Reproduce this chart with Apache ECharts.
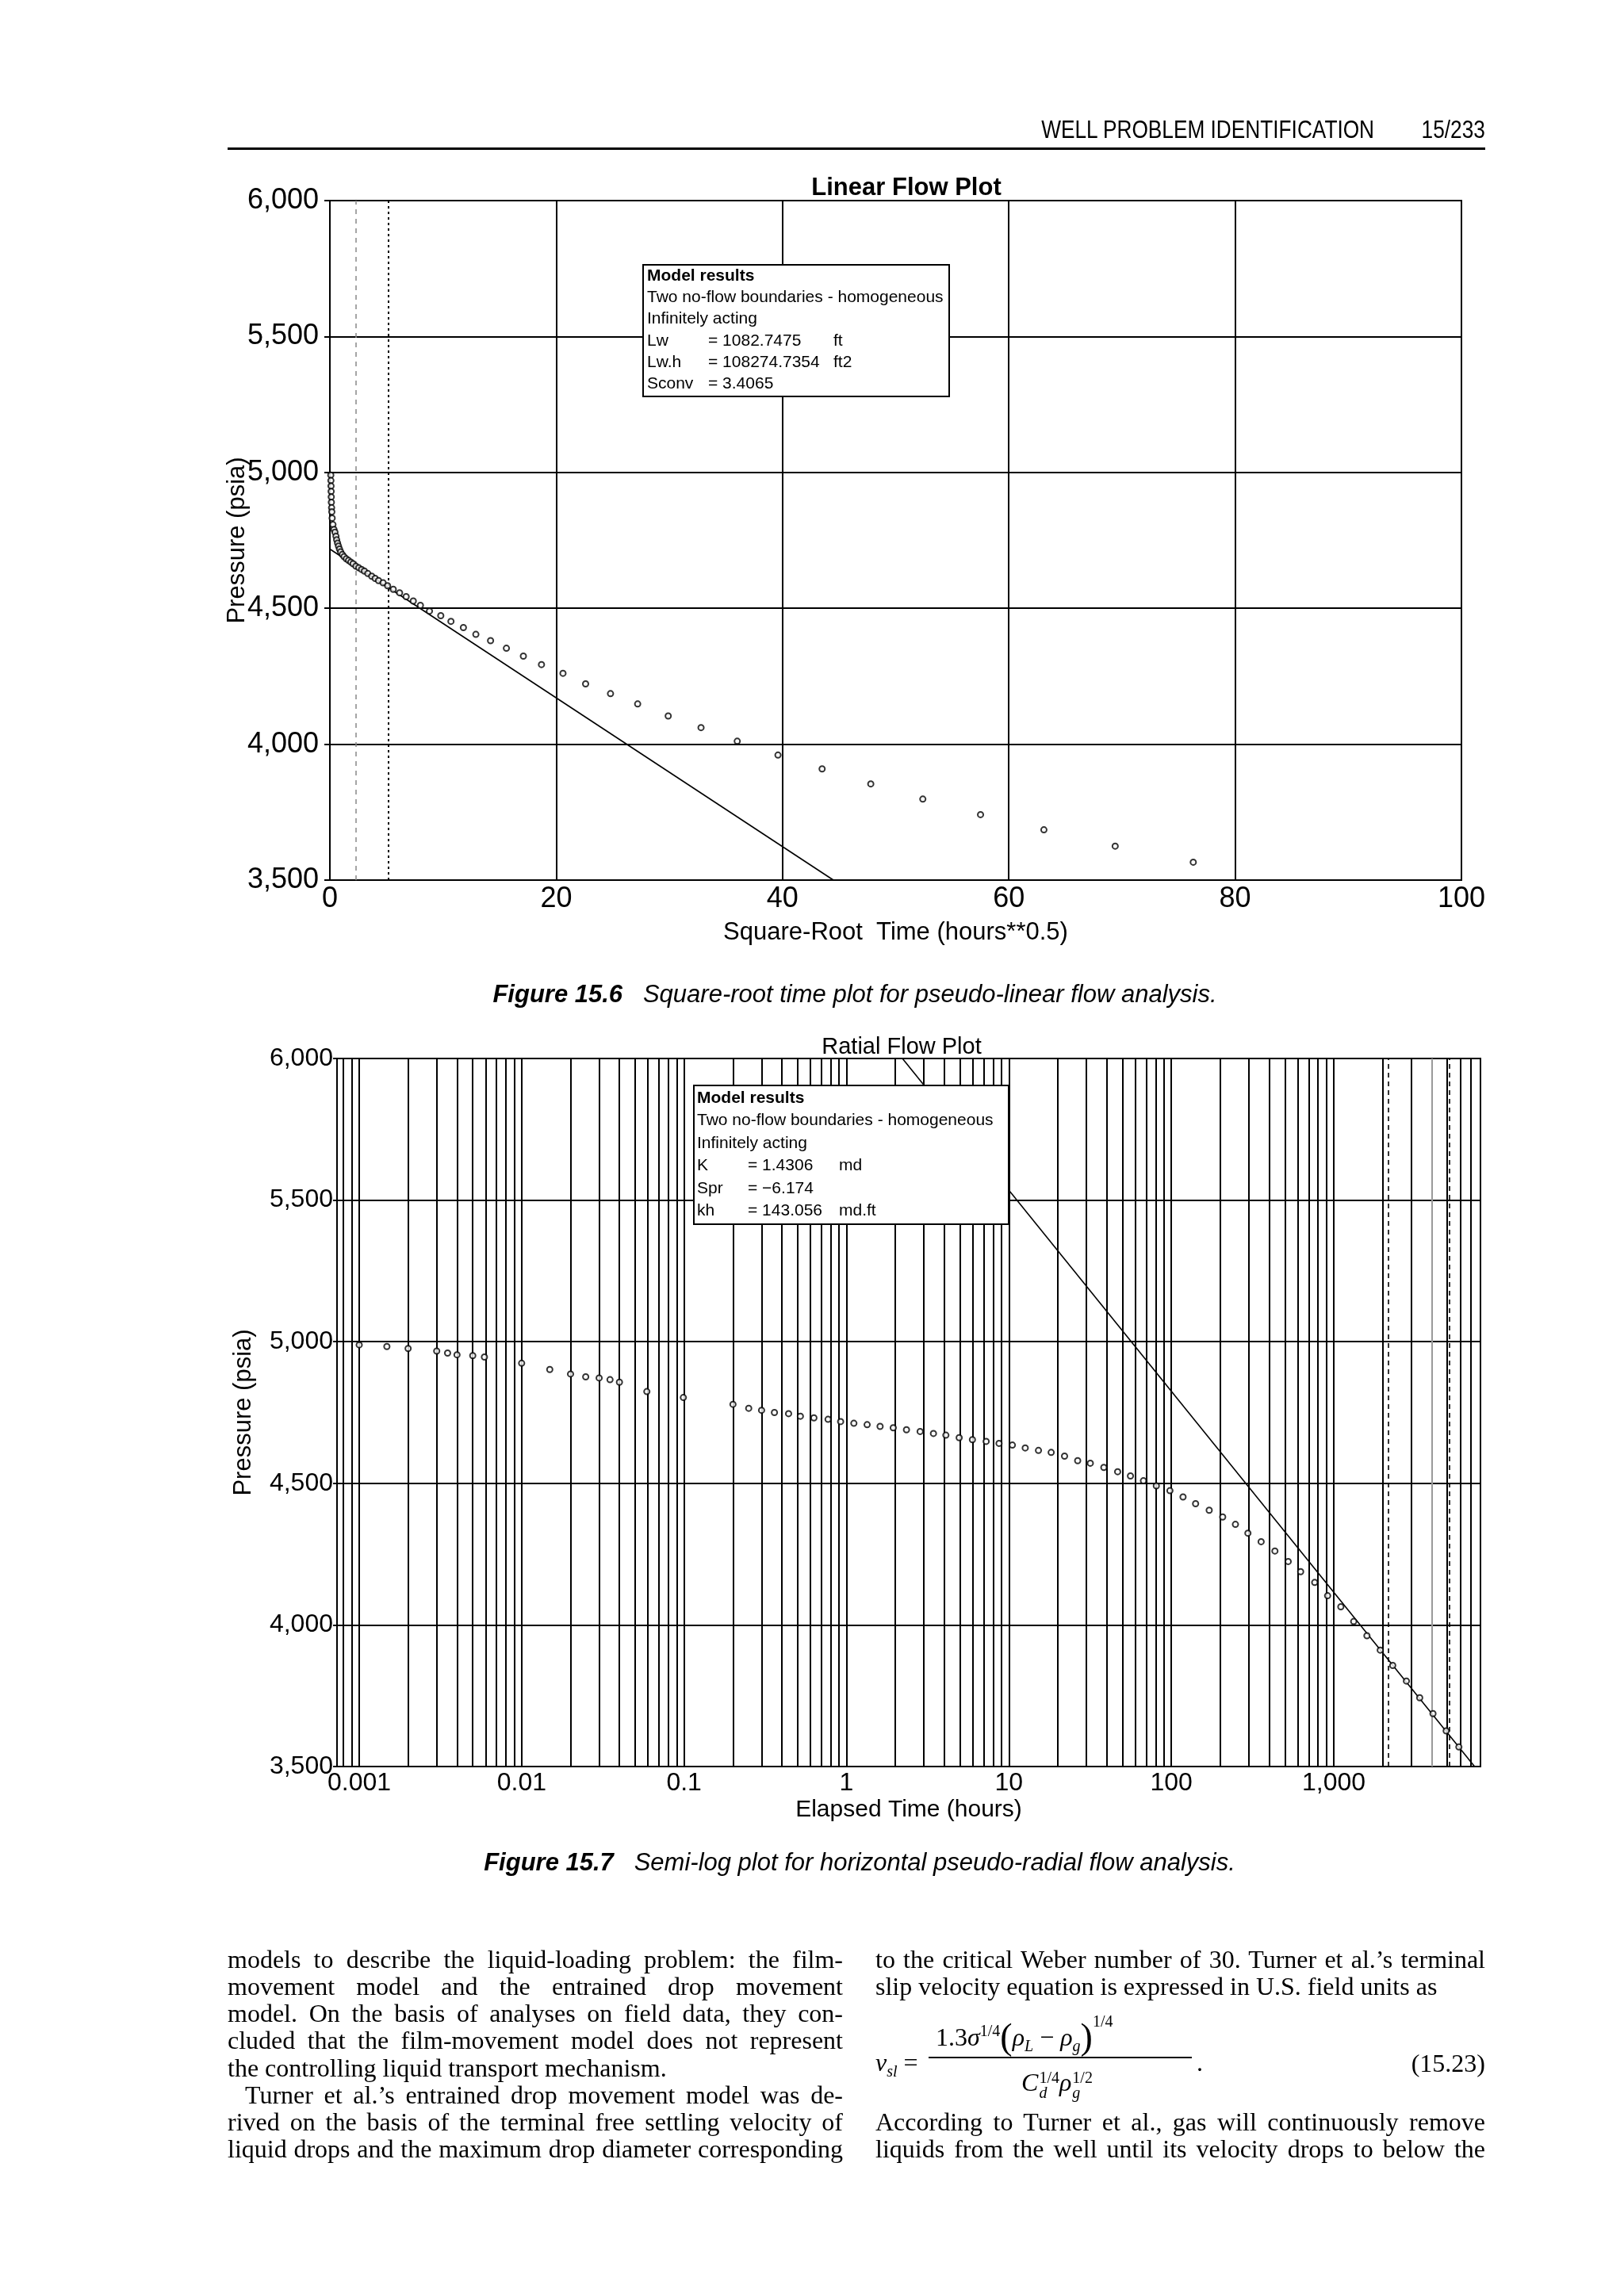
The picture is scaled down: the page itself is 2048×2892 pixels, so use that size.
<!DOCTYPE html>
<html>
<head>
<meta charset="utf-8">
<script src="https://cdn.jsdelivr.net/npm/echarts@6/dist/echarts.min.js"></script>
<style>
  body { margin: 0; background: #fff; }
  #page { position: relative; width: 2048px; height: 2892px; overflow: hidden; background: #fff; }
  #chart { position: absolute; left: 0; top: 0; width: 2048px; height: 2892px; }
  .t { position: absolute; white-space: nowrap; color: #000; }
  .sans { font-family: 'Liberation Sans', Arial, sans-serif; }
  .serif { font-family: 'Liberation Serif', 'Times New Roman', serif; }
  .cond { font-family: 'Liberation Sans', Arial, sans-serif; transform: scaleX(0.82); transform-origin: right center; }
  .bl { position: absolute; font-family: 'Liberation Serif', 'Times New Roman', serif; font-size: 32px;
        line-height: 34px; height: 34px; text-align: justify; text-align-last: justify; color: #000; overflow: visible; }
  .bl.last { text-align-last: left; }
  .ss { display: inline-flex; flex-direction: column; font-size: 20px; line-height: 19px; vertical-align: middle; margin-left: 1px; }
  sub, sup { font-size: 20px; line-height: 0; }
</style>
</head>
<body>
<div id="page">
  <div id="chart"></div>
</div>
<script>
// ---------------- data ----------------
const linearSqrtTime = [0.08, 0.09, 0.1, 0.11, 0.12, 0.13, 0.15, 0.17, 0.2, 0.27,
  0.36, 0.45, 0.54, 0.6, 0.68, 0.76, 0.85, 0.95, 1.1, 1.25,
  1.45, 1.65, 1.85, 2.05, 2.3, 2.55, 2.8, 3.05, 3.35, 3.7,
  4.0, 4.3, 4.7, 5.1, 5.6, 6.16, 6.74, 7.37, 8.0, 8.8,
  9.8, 10.7, 11.8, 12.9, 14.2, 15.6, 17.1, 18.7, 20.6, 22.6,
  24.8, 27.2, 29.9, 32.8, 36.0, 39.6, 43.5, 47.8, 52.4, 57.5,
  63.1, 69.4, 76.3];
const linearPressure = [4990, 4970, 4950, 4930, 4910, 4890, 4870, 4855, 4832, 4808,
  4790, 4780, 4765, 4752, 4740, 4729, 4718, 4708, 4698, 4690,
  4682, 4676, 4670, 4664, 4655, 4649, 4643, 4637, 4628, 4618,
  4610, 4602, 4594, 4583, 4570, 4557, 4543, 4527, 4511, 4490,
  4473, 4452, 4429, 4404, 4381, 4353, 4324, 4293, 4261, 4222,
  4186, 4148, 4104, 4061, 4011, 3960, 3909, 3854, 3798, 3741,
  3685, 3625, 3566];
const linearFitX = [0, 44.5];
const linearFitP = [4718, 3500];
const linearMarkers = [2.3, 5.2];

const radialTime = [0.001, 0.00148, 0.002, 0.003, 0.0035, 0.004, 0.005, 0.0059,
  0.01, 0.0149, 0.02, 0.0248, 0.03, 0.035, 0.04, 0.059, 0.099,
  0.2, 0.25, 0.30, 0.36, 0.44, 0.52, 0.63, 0.77, 0.92, 1.11,
  1.34, 1.61, 1.94, 2.34, 2.84, 3.43, 4.09, 4.94, 5.96, 7.24,
  8.69, 10.5, 12.6, 15.2, 18.2, 22.0, 26.5, 31.7, 38.4, 46.7,
  56.0, 67.3, 80.8, 98, 118, 141, 171, 207, 248, 296,
  357, 434, 524, 625, 763, 916, 1105, 1326, 1600, 1932,
  2306, 2800, 3380, 4080, 4920, 5890];
const radialPressure = [4989, 4983, 4976, 4967, 4960, 4954, 4951, 4946,
  4924, 4902, 4886, 4876, 4872, 4866, 4857, 4824, 4803,
  4779, 4765, 4758, 4750, 4746, 4737, 4731, 4726, 4718, 4712,
  4707, 4701, 4696, 4689, 4683, 4676, 4670, 4661, 4654, 4648,
  4641, 4635, 4625, 4616, 4609, 4596, 4580, 4571, 4556, 4541,
  4526, 4509, 4491, 4474, 4452, 4428, 4405, 4381, 4355, 4324,
  4294, 4261, 4224, 4188, 4150, 4103, 4064, 4012, 3962, 3911,
  3857, 3802, 3743, 3687, 3626, 3569];
const radialFitT = [2.21, 7360];
const radialFitP = [6000, 3500];
const radialMarkers = [2170, 5130];

const logTickValues = [0.001, 0.01, 0.1, 1, 10, 100, 1000];
const logTickLabels = ['0.001', '0.01', '0.1', '1', '10', '100', '1,000'];
const logMin = 0.00073, logMax = 8000;

const topBoxLines = [['Model results'], ['Two no-flow boundaries - homogeneous'], ['Infinitely acting'],
  ['Lw', '= 1082.7475', 'ft'], ['Lw.h', '= 108274.7354', 'ft2'], ['Sconv', '= 3.4065', '']];
const botBoxLines = [['Model results'], ['Two no-flow boundaries - homogeneous'], ['Infinitely acting'],
  ['K', '= 1.4306', 'md'], ['Spr', '= \u22126.174', ''], ['kh', '= 143.056', 'md.ft']];

const leftColumn = [
  'models to describe the liquid-loading problem: the film-',
  'movement model and the entrained drop movement',
  'model. On the basis of analyses on field data, they con-',
  'cluded that the film-movement model does not represent',
  'the controlling liquid transport mechanism.',
  'Turner et al.\u2019s entrained drop movement model was de-',
  'rived on the basis of the terminal free settling velocity of',
  'liquid drops and the maximum drop diameter corresponding'];
const rightColumnTop = [
  'to the critical Weber number of 30. Turner et al.\u2019s terminal',
  'slip velocity equation is expressed in U.S. field units as'];
const rightColumnBottom = [
  'According to Turner et al., gas will continuously remove',
  'liquids from the well until its velocity drops to below the'];

// ---------------- page text (HTML) ----------------
const page = document.getElementById('page');
function addDiv(html, cls, style) {
  const d = document.createElement('div');
  d.className = cls; d.innerHTML = html; d.setAttribute('style', style);
  page.appendChild(d); return d;
}
addDiv('WELL PROBLEM IDENTIFICATION', 't cond', 'right:315px;top:146px;font-size:32px;line-height:34px;');
addDiv('15/233', 't cond', 'right:175px;top:146px;font-size:32px;line-height:34px;');
addDiv('', 't', 'left:287px;top:186px;width:1586px;height:3px;background:#000;');

addDiv('<b><i>Figure 15.6</i></b>&nbsp;&nbsp;&nbsp;<i>Square-root time plot for pseudo-linear flow analysis.</i>',
  't sans', 'left:1078px;top:1237px;font-size:31px;line-height:34px;transform:translateX(-50%);');
addDiv('<b><i>Figure 15.7</i></b>&nbsp;&nbsp;&nbsp;<i>Semi-log plot for horizontal pseudo-radial flow analysis.</i>',
  't sans', 'left:1084px;top:2332px;font-size:31px;line-height:34px;transform:translateX(-50%);');

const lineTops = [2454, 2488, 2522, 2556, 2591, 2625, 2659, 2693];
leftColumn.forEach((s, i) => {
  const indent = (i === 5) ? 22 : 0;
  addDiv(s, 'bl' + (i === 4 ? ' last' : ''),
    'left:' + (287 + indent) + 'px;width:' + (776 - indent) + 'px;top:' + lineTops[i] + 'px;');
});
rightColumnTop.forEach((s, i) => {
  addDiv(s, 'bl' + (i === 1 ? ' last' : ''), 'left:1104px;width:769px;top:' + lineTops[i] + 'px;');
});
rightColumnBottom.forEach((s, i) => {
  addDiv(s, 'bl', 'left:1104px;width:769px;top:' + lineTops[6 + i] + 'px;');
});
// equation 15.23
addDiv('<i>v</i><sub><i>sl</i></sub> =', 't serif', 'left:1104px;top:2584px;font-size:32px;line-height:34px;');
addDiv('1.3<i>\u03c3</i><sup>1/4</sup><span style="font-size:46px;vertical-align:-4px">(</span><i>\u03c1</i><sub><i>L</i></sub> \u2212 <i>\u03c1</i><sub><i>g</i></sub><span style="font-size:46px;vertical-align:-4px">)</span><sup style="position:relative;top:-12px">1/4</sup>',
  't serif', 'left:1180px;top:2549px;font-size:32px;line-height:40px;');
addDiv('', 't', 'left:1171px;top:2594px;width:332px;height:2px;background:#000;');
addDiv('<i>C</i><span class="ss"><span>1/4</span><span><i>d</i></span></span><i>\u03c1</i><span class="ss"><span>1/2</span><span><i>g</i></span></span>',
  't serif', 'left:1333px;top:2606px;font-size:32px;line-height:40px;transform:translateX(-50%);');
addDiv('.', 't serif', 'left:1509px;top:2584px;font-size:32px;line-height:34px;');
addDiv('(15.23)', 't serif', 'right:175px;top:2585px;font-size:32px;line-height:34px;');

// ---------------- chart ----------------
const logGridLines = [];
for (let k = -4; k <= 3; k++) {
  for (let m = 1; m <= 9; m++) {
    const v = m * Math.pow(10, k);
    if (v >= logMin && v <= logMax) logGridLines.push(v);
  }
}

const SANS = "'Liberation Sans', Arial, sans-serif";
const fmtComma = v => Number(v).toLocaleString('en-US');

function boxGraphic(x, y, w, h, lines, lineY0, lineStep, cols, fontFamily) {
  const children = [{ type: 'rect', z: 100, shape: { x: x, y: y, width: w, height: h },
    style: { fill: '#fff', stroke: '#000', lineWidth: 2 } }];
  lines.forEach((ln, i) => {
    const yy = lineY0 + i * lineStep;
    ln.forEach((s, j) => {
      if (!s) return;
      children.push({ type: 'text', z: 101, x: cols[j], y: yy,
        style: { text: s, fill: '#000', align: 'left', verticalAlign: 'middle',
          font: (i === 0 ? 'bold ' : '') + '21px ' + fontFamily } });
    });
  });
  return { type: 'group', z: 100, children: children };
}

const chart = echarts.init(document.getElementById('chart'), null, { renderer: 'canvas', width: 2048, height: 2892 });

const option = {
  animation: false,
  backgroundColor: 'transparent',
  grid: [
    { left: 416, top: 253, width: 1427, height: 857, show: true, borderColor: '#000', borderWidth: 2,
      backgroundColor: 'transparent', containLabel: false, outerBoundsMode: 'none' },
    { left: 425, top: 1335, width: 1442, height: 893, show: true, borderColor: '#000', borderWidth: 2,
      backgroundColor: 'transparent', containLabel: false, outerBoundsMode: 'none' }
  ],
  xAxis: [
    { gridIndex: 0, type: 'value', min: 0, max: 100, interval: 20,
      axisLine: { show: true, lineStyle: { color: '#000', width: 2 } },
      axisTick: { show: false },
      axisLabel: { color: '#000', fontSize: 36, fontFamily: SANS, margin: 6 },
      splitLine: { show: true, lineStyle: { color: '#000', width: 2 } },
      name: 'Square-Root  Time (hours**0.5)', nameLocation: 'middle', nameGap: 51,
      nameTextStyle: { color: '#000', fontSize: 31, fontFamily: SANS } },
    { gridIndex: 1, type: 'log', logBase: 10, min: logMin, max: logMax,
      axisLine: { show: true, lineStyle: { color: '#000', width: 2 } },
      axisTick: { show: false },
      splitLine: { show: false },
      minorSplitLine: { show: false },
      axisLabel: { color: '#000', fontSize: 32, fontFamily: SANS, margin: 5,
        customValues: logTickValues,
        formatter: v => logTickLabels[Math.round(Math.log10(v)) + 3] },
      name: 'Elapsed Time (hours)', nameLocation: 'middle', nameGap: 40,
      nameTextStyle: { color: '#000', fontSize: 30, fontFamily: SANS } }
  ],
  yAxis: [
    { gridIndex: 0, type: 'value', min: 3500, max: 6000, interval: 500,
      axisLine: { show: true, lineStyle: { color: '#000', width: 2 } },
      axisTick: { show: true, length: 7, lineStyle: { color: '#000', width: 2 } },
      axisLabel: { color: '#000', fontSize: 36, fontFamily: SANS, margin: 14, formatter: fmtComma },
      splitLine: { show: true, lineStyle: { color: '#000', width: 2 } },
      name: 'Pressure (psia)', nameLocation: 'middle', nameGap: 101, nameMoveOverlap: false,
      nameTextStyle: { color: '#000', fontSize: 31, fontFamily: SANS } },
    { gridIndex: 1, type: 'value', min: 3500, max: 6000, interval: 500,
      axisLine: { show: true, lineStyle: { color: '#000', width: 2 } },
      axisTick: { show: true, length: 5, lineStyle: { color: '#000', width: 2 } },
      axisLabel: { color: '#000', fontSize: 32, fontFamily: SANS, margin: 5, formatter: fmtComma },
      splitLine: { show: true, lineStyle: { color: '#000', width: 2 } },
      name: 'Pressure (psia)', nameLocation: 'middle', nameGap: 102, nameMoveOverlap: false,
      nameTextStyle: { color: '#000', fontSize: 31, fontFamily: SANS } }
  ],
  series: [
    { type: 'lines', coordinateSystem: 'cartesian2d', xAxisIndex: 0, yAxisIndex: 0, silent: true, z: 2,
      data: linearMarkers.map((v, i) => ({ coords: [[v, 3500], [v, 6000]],
        lineStyle: i === 0 ? { color: '#888', width: 1.5, type: [6, 6], opacity: 1 }
                           : { color: '#000', width: 2, type: [3, 4], opacity: 1 } })),
      lineStyle: { color: '#000', width: 2, opacity: 1 } },
    { type: 'line', xAxisIndex: 0, yAxisIndex: 0, silent: true, z: 3, showSymbol: false, symbol: 'none',
      data: linearFitX.map((x, i) => [x, linearFitP[i]]),
      lineStyle: { color: '#000', width: 1.6 } },
    { type: 'scatter', xAxisIndex: 0, yAxisIndex: 0, z: 4, symbol: 'emptyCircle', symbolSize: 7,
      itemStyle: { color: '#000', borderColor: '#000', borderWidth: 1.5 },
      data: linearSqrtTime.map((x, i) => [x, linearPressure[i]]) },

    { type: 'lines', coordinateSystem: 'cartesian2d', xAxisIndex: 1, yAxisIndex: 1, silent: true, z: 1,
      data: logGridLines.map(v => ({ coords: [[v, 3500], [v, 6000]],
        lineStyle: { color: Math.abs(v - 4000) < 1e-6 ? '#9a9a9a' : '#000', width: 2, opacity: 1 } })),
      lineStyle: { color: '#000', width: 2, opacity: 1 } },
    { type: 'lines', coordinateSystem: 'cartesian2d', xAxisIndex: 1, yAxisIndex: 1, silent: true, z: 2,
      data: radialMarkers.map(v => ({ coords: [[v, 3500], [v, 6000]] })),
      lineStyle: { color: '#000', width: 1.6, type: [6, 5], opacity: 1 } },
    { type: 'line', xAxisIndex: 1, yAxisIndex: 1, silent: true, z: 3, showSymbol: false, symbol: 'none',
      data: radialFitT.map((t, i) => [t, radialFitP[i]]),
      lineStyle: { color: '#000', width: 1.6 } },
    { type: 'scatter', xAxisIndex: 1, yAxisIndex: 1, z: 4, symbol: 'emptyCircle', symbolSize: 7,
      itemStyle: { color: '#000', borderColor: '#000', borderWidth: 1.5 },
      data: radialTime.map((t, i) => [t, radialPressure[i]]) }
  ],
  graphic: [
    { type: 'text', x: 1143, y: 237, z: 100,
      style: { text: 'Linear Flow Plot', fill: '#000', align: 'center', verticalAlign: 'middle',
        font: 'bold 31px ' + SANS } },
    { type: 'text', x: 1137, y: 1321, z: 100,
      style: { text: 'Ratial Flow Plot', fill: '#000', align: 'center', verticalAlign: 'middle',
        font: '29px ' + SANS } },
    boxGraphic(811, 334, 386, 166, topBoxLines, 348, 27.3, [816, 893, 1051], SANS),
    boxGraphic(875, 1369, 397, 175, botBoxLines, 1385, 28.5, [879, 943, 1058], SANS)
  ]
};
chart.setOption(option);
</script>
</body>
</html>
